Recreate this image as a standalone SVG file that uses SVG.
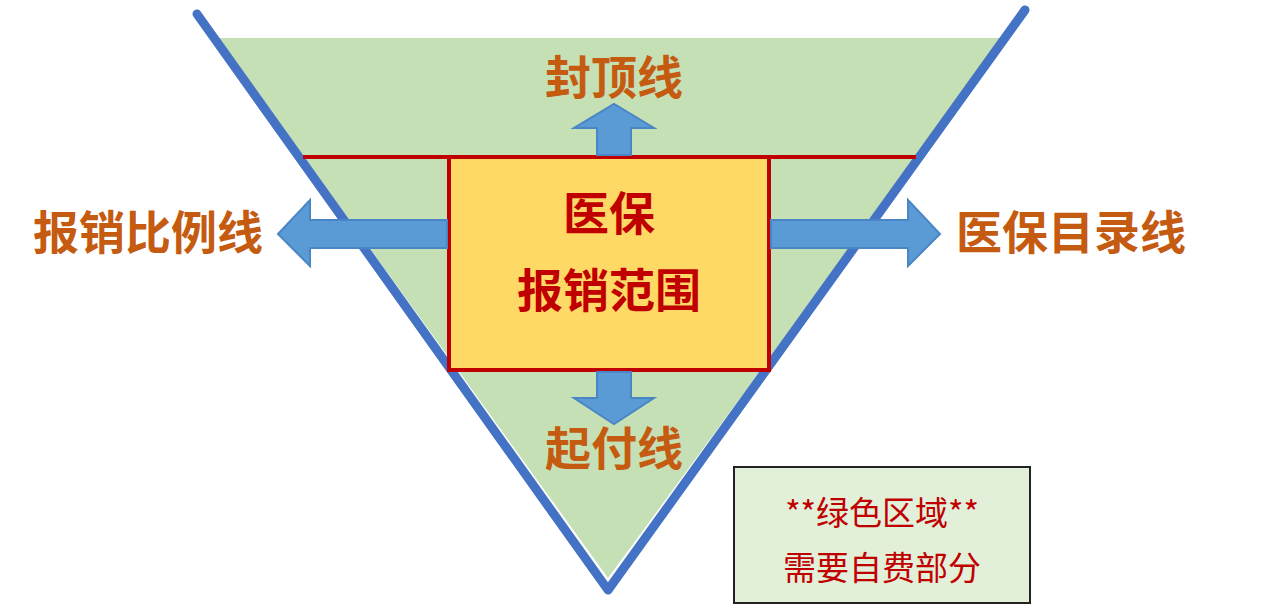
<svg xmlns="http://www.w3.org/2000/svg" width="1288" height="608" viewBox="0 0 1288 608">
<style>
.lbl{font-family:"Noto Sans CJK SC","Noto Sans",sans-serif;font-size:46px;font-weight:bold;fill:#c55a11;text-anchor:middle}
.box{font-family:"Noto Sans CJK SC","Noto Sans",sans-serif;font-size:46px;font-weight:bold;fill:#c00000;text-anchor:middle}
.leg{font-family:"Noto Sans CJK SC","Noto Sans",sans-serif;font-size:33px;fill:#c00000;text-anchor:middle}
.arr{fill:#5b9bd5;stroke:#4a86c5;stroke-width:2}
</style>
<rect width="1288" height="608" fill="#fff"/>
<g id="zone"><polygon points="218,38 1005,38 608,578" fill="#c5e0b4"/></g>
<g id="triangle"><polyline points="197,14 608,590 1025,10" fill="none" stroke="#4472c4" stroke-width="9" stroke-linecap="round" stroke-linejoin="round"/></g>
<g id="capline"><line x1="303" y1="157" x2="916" y2="157" stroke="#c00000" stroke-width="4"/></g>
<g id="range"><rect x="449" y="157" width="320" height="213" fill="#ffd966" stroke="#c00000" stroke-width="4"/>
<text class="box" x="609" y="230">医保</text><text class="box" x="609" y="307">报销范围</text></g>
<g id="connectors">
<polygon class="arr" points="597,155 597,128 574,128 614,104 654,128 631,128 631,155"/>
<polygon class="arr" points="447,220 310,220 310,200 278,234 310,266 310,248 447,248"/>
<polygon class="arr" points="771,220 908,220 908,200 940,234 908,266 908,248 771,248"/>
<polygon class="arr" points="597,372 597,398 574,398 614,424 654,398 631,398 631,372"/>
</g>
<g id="top"><text class="lbl" x="614" y="94">封顶线</text></g>
<g id="left"><text class="lbl" x="148" y="249">报销比例线</text></g>
<g id="right"><text class="lbl" x="1071" y="249">医保目录线</text></g>
<g id="bottom"><text class="lbl" x="614" y="465">起付线</text></g>
<g id="legend"><rect x="734" y="467" width="296" height="136" fill="#e2efd9" stroke="#222" stroke-width="2"/>
<text class="leg" x="882" y="525">**绿色区域**</text><text class="leg" x="882" y="580">需要自费部分</text></g>
</svg>
